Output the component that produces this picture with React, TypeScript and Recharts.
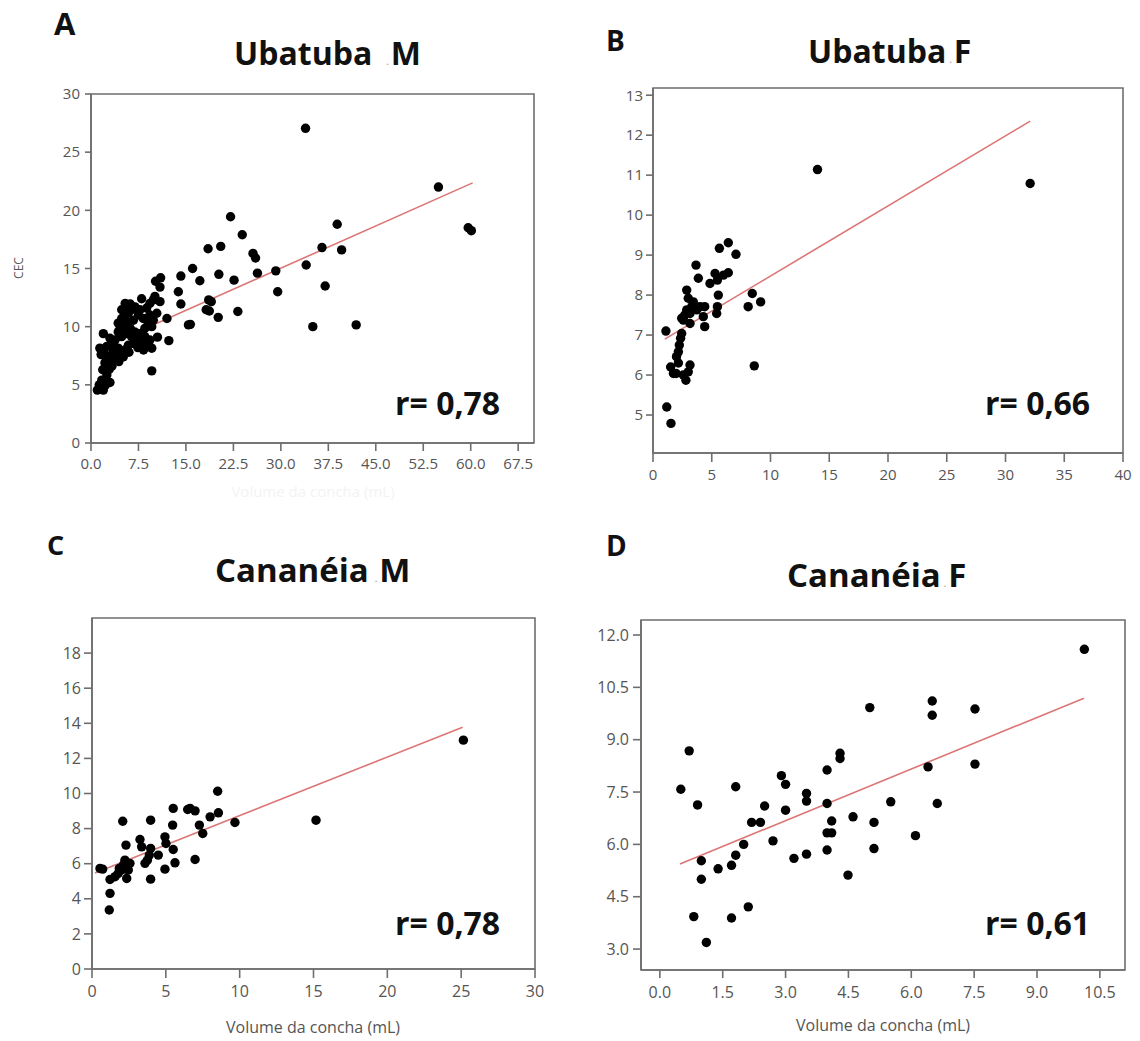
import React from "react";
import {
  ScatterChart,
  Scatter,
  XAxis,
  YAxis,
  ReferenceArea,
  ReferenceLine,
} from "recharts";

const FONT = "'Open Sans', 'Noto Sans', sans-serif";

// ---------- Panel A: Ubatuba M ----------
const ubatubaM_x = [
  33.9, 54.9, 59.6, 60.1, 38.9, 39.6, 36.5, 34.0, 37.0, 35.05, 41.9, 29.2, 29.5, 22.05, 23.9, 25.6, 26.0, 26.3, 22.6, 23.2,
  18.5, 20.5, 20.2, 16.05, 17.2, 14.2, 13.8, 14.2, 15.4, 15.7, 18.6, 19.0, 18.2, 18.7, 20.1, 12.0, 12.3, 10.5, 9.6, 11.0,
  10.2, 10.9, 10.1, 10.9, 8.0, 5.4, 6.2, 5.1, 5.9, 4.6, 1.95,
  1.0, 1.95, 3.0, 1.7, 2.5, 1.85, 2.9, 2.5, 3.5, 2.75, 1.95, 4.05, 4.6, 3.25, 4.3, 5.4, 5.9, 6.7, 7.2, 8.0,
  8.5, 9.05, 9.6, 9.3, 3.8, 4.85, 5.6, 6.4, 4.3, 5.1, 6.2, 6.9, 7.7, 8.5, 9.05, 9.6, 9.85, 10.4, 9.3, 8.25,
  7.5, 6.7, 5.6, 4.85, 4.3, 5.4, 6.4, 6.95, 5.6, 4.85, 7.75, 8.8, 9.3, 9.85, 2.5, 1.4, 3.5, 5.1, 2.2, 3.3,
  4.4, 1.3, 2.3, 1.6, 3.0, 2.2, 6.0, 7.4, 8.3,
];
const ubatubaM_y = [
  27.05, 22.0, 18.5, 18.25, 18.8, 16.6, 16.8, 15.3, 13.5, 10.0, 10.15, 14.8, 13.0, 19.45, 17.9, 16.3, 15.9, 14.6, 14.0, 11.3,
  16.7, 16.9, 14.5, 15.0, 13.95, 14.35, 13.0, 11.95, 10.15, 10.2, 12.3, 12.15, 11.45, 11.35, 10.8, 10.7, 8.8, 9.1, 6.2, 14.2,
  13.9, 13.4, 12.6, 12.15, 12.4, 12.0, 11.95, 11.4, 11.15, 9.85, 9.4,
  4.55, 4.55, 5.2, 5.4, 5.85, 6.3, 6.35, 6.85, 7.0, 7.4, 7.85, 7.4, 7.7, 8.3, 8.15, 8.0, 8.4, 8.55, 8.85, 8.55,
  9.15, 8.55, 8.15, 8.85, 8.85, 9.15, 9.4, 9.15, 9.55, 9.85, 9.85, 9.55, 9.4, 9.85, 10.3, 10.0, 10.55, 11.15, 11.0, 10.7,
  11.0, 10.55, 10.45, 10.7, 10.3, 11.15, 11.45, 11.7, 11.7, 11.45, 11.45, 11.6, 12.0, 12.3, 8.3, 8.15, 7.85, 7.4, 6.9, 6.6,
  7.0, 5.0, 5.0, 7.6, 9.0, 7.6, 7.8, 8.2, 8.0,
];
const ubatubaM_fitX = [1.2, 60.3];
const ubatubaM_fitY = [8.06, 22.36];
const ticksA_x = [0, 7.5, 15, 22.5, 30, 37.5, 45, 52.5, 60, 67.5];
const ticksA_y = [0, 5, 10, 15, 20, 25, 30];

// ---------- Panel B: Ubatuba F ----------
const ubatubaF_x = [
  14.0, 32.1, 1.1, 1.17, 1.53, 1.5, 1.74, 1.96, 2.58, 2.8, 3.15, 3.0, 2.16, 2.0, 2.16, 2.24, 2.35, 2.44, 2.58, 2.44,
  2.87, 3.0, 2.87, 3.15, 3.3, 3.43, 3.66, 3.86, 3.72, 4.0, 4.4, 4.4, 4.28, 4.85, 5.28, 5.48, 5.56, 5.42, 5.48, 5.65,
  6.41, 7.06, 6.0, 6.41, 8.1, 8.45, 9.16, 8.62, 3.15, 2.7,
];
const ubatubaF_y = [
  11.14, 10.79, 7.1, 5.2, 4.79, 6.2, 6.04, 6.04, 6.0, 5.87, 6.25, 6.08, 6.3, 6.46, 6.58, 6.75, 6.92, 7.04, 7.375, 7.42,
  8.125, 7.92, 7.63, 7.54, 7.71, 7.83, 8.75, 8.42, 7.63, 7.71, 7.71, 7.21, 7.46, 8.29, 8.54, 8.375, 8.0, 7.54, 7.71, 9.17,
  9.31, 9.02, 8.5, 8.56, 7.71, 8.04, 7.83, 6.23, 7.29, 7.5,
];
const ubatubaF_fitX = [1.0, 32.1];
const ubatubaF_fitY = [6.9, 12.35];
const ticksB_x = [0, 5, 10, 15, 20, 25, 30, 35, 40];
const ticksB_y = [5, 6, 7, 8, 9, 10, 11, 12, 13];

// ---------- Panel C: Cananéia M ----------
const cananeiaM_x = [
  25.15, 15.17, 9.68, 8.51, 8.56, 8.0, 7.5, 7.27, 6.98, 6.64, 6.48, 5.5, 5.46, 5.5, 5.62, 6.98, 4.94, 5.01, 4.94, 4.49,
  3.97, 3.97, 3.88, 3.75, 3.59, 3.97, 3.25, 3.36, 2.08, 2.3, 2.23, 2.46, 2.35, 2.0, 1.78, 1.56, 2.12, 1.85, 1.22, 1.22,
  1.17, 0.54, 0.72, 2.57,
];
const cananeiaM_y = [
  13.04, 8.48, 8.35, 10.13, 8.9, 8.67, 7.72, 8.2, 9.01, 9.15, 9.09, 9.15, 8.2, 6.81, 6.05, 6.24, 7.53, 7.15, 5.69, 6.49,
  8.48, 6.87, 6.49, 6.2, 6.02, 5.12, 7.38, 6.96, 8.42, 7.06, 6.2, 5.64, 5.16, 5.64, 5.45, 5.26, 5.92, 5.73, 5.1, 4.31,
  3.36, 5.73, 5.69, 6.02,
];
const cananeiaM_fitX = [0.2, 25.1];
const cananeiaM_fitY = [5.47, 13.78];
const ticksC_x = [0, 5, 10, 15, 20, 25, 30];
const ticksC_y = [0, 2, 4, 6, 8, 10, 12, 14, 16, 18];

// ---------- Panel D: Cananéia F ----------
const cananeiaF_x = [
  10.13, 0.5, 0.7, 0.9, 0.99, 0.99, 0.81, 1.11, 1.39, 1.71, 1.71, 1.81, 1.81, 2.0, 2.11, 2.19, 2.4, 2.5, 2.7, 2.9,
  3.0, 3.0, 3.2, 3.5, 3.5, 3.5, 3.99, 3.99, 3.99, 3.99, 4.1, 4.1, 4.3, 4.3, 4.49, 4.61, 5.01, 5.11, 5.11, 5.51,
  6.1, 6.4, 6.5, 6.5, 6.62, 7.52, 7.52,
];
const cananeiaF_y = [
  11.59, 7.58, 8.68, 7.13, 5.53, 5.0, 3.93, 3.19, 5.3, 5.4, 3.89, 7.65, 5.69, 6.0, 4.21, 6.63, 6.63, 7.1, 6.1, 7.97,
  7.72, 6.98, 5.6, 7.46, 7.24, 5.72, 8.13, 7.17, 6.33, 5.84, 6.67, 6.33, 8.61, 8.46, 5.12, 6.79, 9.92, 6.63, 5.88, 7.22,
  6.25, 8.22, 10.11, 9.7, 7.17, 9.88, 8.3,
];
const cananeiaF_fitX = [0.48, 10.12];
const cananeiaF_fitY = [5.44, 10.19];
const ticksD_x = [0, 1.5, 3, 4.5, 6, 7.5, 9, 10.5];
const ticksD_y = [3, 4.5, 6, 7.5, 9, 10.5, 12];

const zip = (xs: number[], ys: number[]) => xs.map((x, i) => ({ x, y: ys[i] }));

const AXIS = "#6e6e6e";
const TICK = "#555";
const FIT = "#dc7676";

const Dot = (p: any) => <circle cx={p.cx} cy={p.cy} r={4.7} fill="#000" />;

type PanelProps = {
  left: number;
  top: number;
  width: number;
  height: number;
  margin: { top: number; right: number; bottom: number; left: number };
  yWidth: number;
  xHeight: number;
  xDomain: [number, number];
  yDomain: [number, number];
  xTicks: number[];
  yTicks: number[];
  xFmt: (v: number) => string;
  yFmt: (v: number) => string;
  data: { x: number; y: number }[];
  fit: { x: number; y: number }[];
  fontSize: number;
  xTickSize: number;
  xTickMargin: number;
  yTickSize: number;
  yTickMargin: number;
};

function Panel(p: PanelProps) {
  return (
    <div style={{ position: "absolute", left: p.left, top: p.top }}>
      <ScatterChart width={p.width} height={p.height} margin={p.margin}>
        <XAxis
          type="number"
          dataKey="x"
          domain={p.xDomain}
          allowDataOverflow
          ticks={p.xTicks}
          interval={0}
          tickFormatter={p.xFmt}
          height={p.xHeight}
          tickSize={p.xTickSize}
          tickMargin={p.xTickMargin}
          axisLine={{ stroke: AXIS, strokeWidth: 1.6 }}
          tickLine={{ stroke: AXIS, strokeWidth: 1.6 }}
          tick={{ fill: TICK, fontSize: p.fontSize, fontFamily: FONT }}
        />
        <YAxis
          type="number"
          dataKey="y"
          domain={p.yDomain}
          allowDataOverflow
          ticks={p.yTicks}
          interval={0}
          tickFormatter={p.yFmt}
          width={p.yWidth}
          tickSize={p.yTickSize}
          tickMargin={p.yTickMargin}
          axisLine={{ stroke: AXIS, strokeWidth: 1.6 }}
          tickLine={{ stroke: AXIS, strokeWidth: 1.6 }}
          tick={{ fill: TICK, fontSize: p.fontSize, fontFamily: FONT }}
        />
        <ReferenceArea
          x1={p.xDomain[0]}
          x2={p.xDomain[1]}
          y1={p.yDomain[0]}
          y2={p.yDomain[1]}
          fill="none"
          fillOpacity={0}
          stroke={AXIS}
          strokeWidth={1.6}
          ifOverflow="visible"
        />
        <Scatter data={p.data} shape={Dot} isAnimationActive={false} />
        <ReferenceLine
          segment={[p.fit[0], p.fit[1]]}
          stroke={FIT}
          strokeWidth={1.6}
          ifOverflow="visible"
        />
      </ScatterChart>
    </div>
  );
}

const f1 = (v: number) => v.toFixed(1);
const f0 = (v: number) => String(v);

export default function App() {
  const titleStyle = { fontFamily: FONT, fontWeight: 700, fill: "#111" } as const;
  return (
    <div style={{ position: "absolute", left: 0, top: 0, width: 1140, height: 1041, background: "#fff", overflow: "hidden" }}>
      <Panel
        left={0}
        top={0}
        width={570}
        height={520}
        margin={{ top: 94, right: 36, bottom: 37, left: 0 }}
        yWidth={91}
        xHeight={40}
        xDomain={[0, 70]}
        yDomain={[0, 30]}
        xTicks={ticksA_x}
        yTicks={ticksA_y}
        xFmt={f1}
        yFmt={f0}
        data={zip(ubatubaM_x, ubatubaM_y)}
        fit={zip(ubatubaM_fitX, ubatubaM_fitY)}
        fontSize={15}
        xTickSize={8}
        xTickMargin={7}
        yTickSize={6}
        yTickMargin={5}
      />
      <Panel
        left={570}
        top={0}
        width={570}
        height={520}
        margin={{ top: 88, right: 17, bottom: 27, left: 0 }}
        yWidth={83}
        xHeight={40}
        xDomain={[0, 40]}
        yDomain={[4.05, 13.18]}
        xTicks={ticksB_x}
        yTicks={ticksB_y}
        xFmt={f0}
        yFmt={f0}
        data={zip(ubatubaF_x, ubatubaF_y)}
        fit={zip(ubatubaF_fitX, ubatubaF_fitY)}
        fontSize={15}
        xTickSize={9}
        xTickMargin={7}
        yTickSize={7}
        yTickMargin={3}
      />
      <Panel
        left={0}
        top={520}
        width={570}
        height={521}
        margin={{ top: 98, right: 35, bottom: 32, left: 0 }}
        yWidth={92}
        xHeight={40}
        xDomain={[0, 30]}
        yDomain={[0, 20]}
        xTicks={ticksC_x}
        yTicks={ticksC_y}
        xFmt={f0}
        yFmt={f0}
        data={zip(cananeiaM_x, cananeiaM_y)}
        fit={zip(cananeiaM_fitX, cananeiaM_fitY)}
        fontSize={16}
        xTickSize={9}
        xTickMargin={8}
        yTickSize={8}
        yTickMargin={3}
      />
      <Panel
        left={570}
        top={520}
        width={570}
        height={521}
        margin={{ top: 100, right: 15, bottom: 31, left: 0 }}
        yWidth={71}
        xHeight={40}
        xDomain={[-0.45, 11.1]}
        yDomain={[2.4, 12.43]}
        xTicks={ticksD_x}
        yTicks={ticksD_y}
        xFmt={f1}
        yFmt={f1}
        data={zip(cananeiaF_x, cananeiaF_y)}
        fit={zip(cananeiaF_fitX, cananeiaF_fitY)}
        fontSize={16}
        xTickSize={8}
        xTickMargin={9}
        yTickSize={8}
        yTickMargin={4}
      />
      <svg
        width={1140}
        height={1041}
        style={{ position: "absolute", left: 0, top: 0, pointerEvents: "none" }}
      >
        {/* panel letters */}
        <text x={54} y={35} fontSize={31} style={titleStyle}>A</text>
        <text x={606} y={51} fontSize={28} style={titleStyle}>B</text>
        <text x={47} y={555} fontSize={27} style={titleStyle}>C</text>
        <text x={606} y={556} fontSize={28} style={titleStyle}>D</text>

        {/* titles */}
        <text x={234} y={65} fontSize={32} style={titleStyle}>
          Ubatuba
          <tspan fontSize={9} fill="#aaa" dx={14}>.</tspan>
          <tspan dx={2}>M</tspan>
        </text>
        <text x={808} y={63} fontSize={32} style={titleStyle}>
          Ubatuba
          <tspan fontSize={9} fill="#aaa" dx={3}>.</tspan>
          <tspan dx={2}>F</tspan>
        </text>
        <text x={215} y={582} fontSize={33} style={titleStyle}>
          Cananéia
          <tspan fontSize={9} fill="#aaa" dx={6}>.</tspan>
          <tspan dx={2}>M</tspan>
        </text>
        <text x={787} y={587} fontSize={33} style={titleStyle}>
          Cananéia
          <tspan fontSize={9} fill="#aaa" dx={3}>.</tspan>
          <tspan dx={2}>F</tspan>
        </text>

        {/* r annotations */}
        <text x={395} y={415} fontSize={32} style={titleStyle}>r= 0,78</text>
        <text x={985} y={415} fontSize={32} style={titleStyle}>r= 0,66</text>
        <text x={395} y={935} fontSize={32} style={titleStyle}>r= 0,78</text>
        <text x={985} y={935} fontSize={32} style={titleStyle}>r= 0,61</text>

        {/* axis titles */}
        <text
          x={23}
          y={268}
          fontSize={12}
          fill="#555"
          fontFamily={FONT}
          textAnchor="middle"
          transform="rotate(-90 23 268)"
        >
          CEC
        </text>
        <text x={313} y={497} fontSize={15} fill="#f3f3f3" fontFamily={FONT} textAnchor="middle">
          Volume da concha (mL)
        </text>
        <text x={313} y={1033} fontSize={16} fill="#555" fontFamily={FONT} textAnchor="middle">
          Volume da concha (mL)
        </text>
        <text x={883} y={1031} fontSize={16} fill="#555" fontFamily={FONT} textAnchor="middle">
          Volume da concha (mL)
        </text>
      </svg>
    </div>
  );
}
